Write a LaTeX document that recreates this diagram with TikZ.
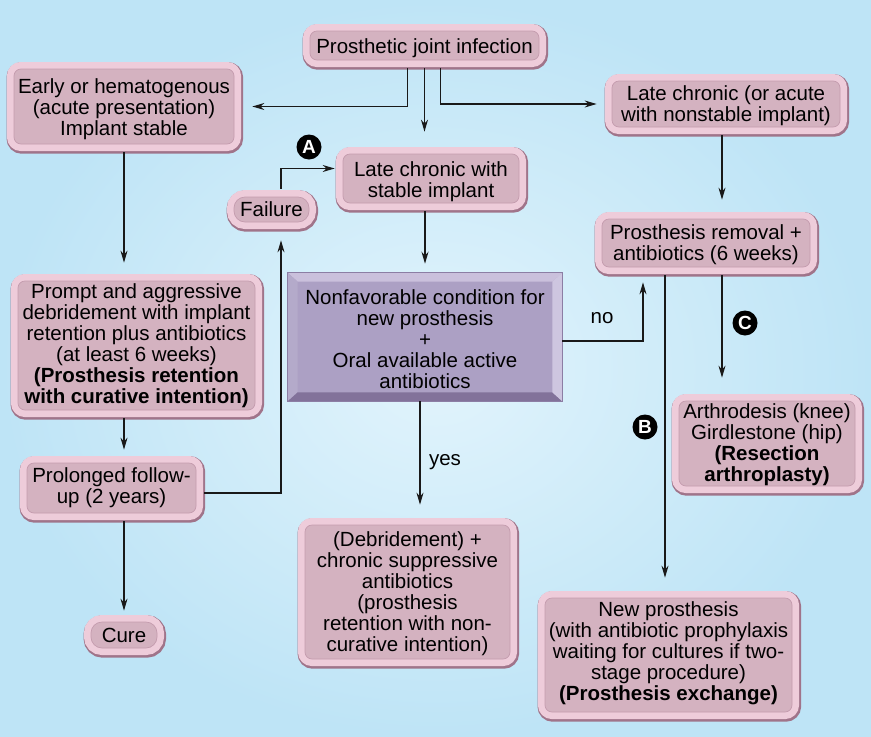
\documentclass[tikz,border=0pt]{standalone}
\usepackage{fontspec}
\setmainfont{Liberation Sans}
\usetikzlibrary{arrows.meta,calc}
\definecolor{bgin}{RGB}{226,244,252}
\definecolor{bgout}{RGB}{190,228,246}
\definecolor{boxfill}{RGB}{212,178,192}
\definecolor{boxinner}{RGB}{196,156,174}
\definecolor{boxshadow}{RGB}{160,116,138}
\definecolor{boxring}{RGB}{238,204,218}
\definecolor{nffill}{RGB}{172,160,196}
\definecolor{nflight}{RGB}{202,192,220}
\definecolor{nfleft}{RGB}{180,170,202}
\definecolor{nfdark}{RGB}{130,114,154}
\definecolor{nfright}{RGB}{206,198,224}
\definecolor{nfedge}{RGB}{140,126,164}
\definecolor{linec}{RGB}{25,25,25}
\tikzset{
  pbox/.style={rounded corners=7pt, fill=boxfill, draw=boxinner, line width=0.7pt,
    preaction={draw=boxshadow, line width=16.5pt, transform canvas={shift={(0.8pt,-1.4pt)}}},
    preaction={draw=boxring, line width=14pt},
    align=center, inner sep=0pt,
    font=\fontsize{20.5}{21}\selectfont},
  pill/.style={pbox, rounded corners=11pt},
  nfbox/.style={fill=nffill, draw=nfedge, line width=0.6pt},
  arr/.style={draw=linec, line width=1.2pt, -{Stealth[length=12pt,width=7pt]}},
  circlab/.style={circle, fill=black, text=white, inner sep=0pt, minimum size=25pt,
    font=\fontsize{19}{19}\selectfont\bfseries},
  plain/.style={font=\fontsize{20.5}{21}\selectfont, inner sep=0pt}
}
\begin{document}
\begin{tikzpicture}[x=1pt,y=-1pt]
\useasboundingbox (0,0) rectangle (871,737);
\shade[inner color=bgin, outer color=bgout] (0,0) rectangle (871,737);

% pink boxes: sizes are the inner face (outer size minus 16)
\node[pbox, minimum width=229pt, minimum height=29pt, text height=21pt] (pji) at (424.5,45.5) {Prosthetic joint infection};
\node[pbox, minimum width=220pt, minimum height=75pt, text height=62pt] (early) at (124,106.5) {Early or hematogenous\\(acute presentation)\\Implant stable};
\node[pbox, minimum width=228pt, minimum height=46pt, text height=40pt] (lcn) at (726,104) {Late chronic (or acute\\with nonstable implant)};
\node[pbox, minimum width=176pt, minimum height=49pt, text height=42pt] (lcs) at (431,178.5) {Late chronic with\\stable implant};
\node[pill, minimum width=75pt, minimum height=25pt] (failure) at (271.5,209.5) {Failure};
\node[pbox, minimum width=208pt, minimum height=48pt, text height=40pt] (prem) at (706,243) {Prosthesis removal +\\antibiotics (6 weeks)};

\node[nfbox, minimum width=274pt, minimum height=128pt] (nf) at (425,337) {};
\fill[nflight] (nf.north west) -- (nf.north east) -- ([shift={(-10,9)}]nf.north east) -- ([shift={(10,9)}]nf.north west) -- cycle;
\fill[nfleft] (nf.north west) -- ([shift={(10,9)}]nf.north west) -- ([shift={(10,-9)}]nf.south west) -- (nf.south west) -- cycle;
\fill[nfdark] (nf.south west) -- (nf.south east) -- ([shift={(-10,-9)}]nf.south east) -- ([shift={(10,-9)}]nf.south west) -- cycle;
\fill[nfright] (nf.north east) -- ([shift={(-10,9)}]nf.north east) -- ([shift={(-10,-9)}]nf.south east) -- (nf.south east) -- cycle;
\draw[nfedge, line width=0.6pt] (nf.north west) rectangle (nf.south east);
\node[plain, align=center] (nftext) at ([yshift=-2pt]nf.center) {Nonfavorable condition for\\new prosthesis\\+\\Oral available active\\antibiotics};

\node[pbox, minimum width=237pt, minimum height=129pt] (prompt) at (136.5,345.5) {Prompt and aggressive\\debridement with implant\\retention plus antibiotics\\(at least 6 weeks)\\\textbf{(Prosthesis retention}\\\textbf{with curative intention)}};
\node[pbox, minimum width=176pt, minimum height=85pt, text height=80pt] (arth) at (767,443.5) {Arthrodesis (knee)\\Girdlestone (hip)\\\textbf{(Resection}\\\textbf{arthroplasty)}};
\node[pbox, minimum width=169pt, minimum height=50pt] (prol) at (111.5,488) {Prolonged follow-\\up (2 years)};
\node[pbox, minimum width=205pt, minimum height=134pt, text height=124pt] (deb) at (407.5,592) {(Debridement) +\\chronic suppressive\\antibiotics\\(prosthesis\\retention with non-\\curative intention)};
\node[pill, minimum width=66pt, minimum height=26pt] (cure) at (124,635) {Cure};
\node[pbox, minimum width=247pt, minimum height=114pt, text depth=8.5pt] (newp) at (668.5,655) {New prosthesis\\(with antibiotic prophylaxis\\waiting for cultures if two-\\stage procedure)\\\textbf{(Prosthesis exchange)}};

\node[circlab] (cA) at (309,147) {A};
\node[circlab] (cB) at (645,427) {B};
\node[circlab] (cC) at (745,323) {C};
\node[plain] (no) at (602,318) {no};
\node[plain] (yes) at (445,462) {yes};

% connectors
\draw[arr, shorten <=8pt, shorten >=18pt] ([xshift=-17pt]pji.south) |- (early.east);
\draw[arr, shorten <=8pt, shorten >=22pt] (pji.south) -- (pji.south |- lcs.north);
\draw[arr, shorten <=8pt, shorten >=15pt] ([xshift=16pt]pji.south) |- (lcn.west);
\draw[arr, shorten <=8pt, shorten >=18pt] (early.south) -- (early.south |- prompt.north);
\draw[arr, shorten <=8pt, shorten >=19pt] ([xshift=-4pt]lcn.south) -- ([xshift=-4pt]lcn.south |- prem.north);
\draw[arr, shorten <=8pt, shorten >=8pt] ([xshift=9.5pt]failure.north) |- ([yshift=10pt]lcs.west);
\draw[arr, shorten <=8pt, shorten >=9pt] (nf.north |- lcs.south) -- (nf.north);
\draw[arr, shorten <=8pt, shorten >=13pt] (early.south |- prompt.south) -- (early.south |- prol.north);
\draw[arr, shorten <=8pt, shorten >=18pt] ([yshift=-5pt]prol.east) -| ([xshift=9.5pt]failure.south);
\draw[arr, shorten >=15pt] ([yshift=-4pt]nf.east) -| ([xshift=-63pt]prem.south);
\draw[arr, shorten >=20pt] ([xshift=-5pt]nf.south) -- ([xshift=-5pt]nf.south |- deb.north);
\draw[arr, shorten <=8pt, shorten >=11pt] (cure.north |- prol.south) -- (cure.north);
\draw[arr, shorten <=8pt, shorten >=20pt] ([xshift=-41pt]prem.south) -- ([xshift=-41pt]prem.south |- newp.north);
\draw[arr, shorten <=8pt, shorten >=23pt] ([xshift=16pt]prem.south) -- ([xshift=16pt]prem.south |- arth.north);
\end{tikzpicture}
\end{document}
